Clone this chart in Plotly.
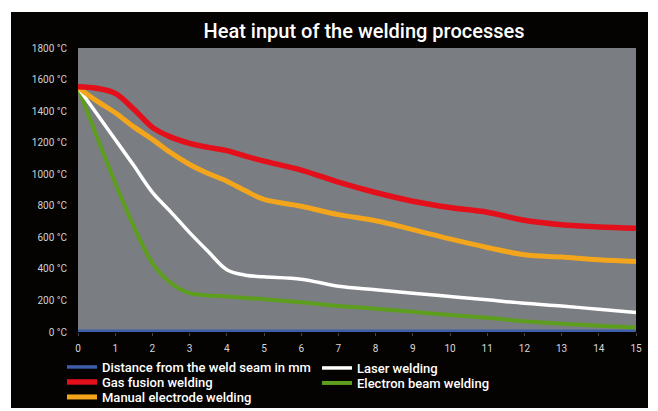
import plotly.graph_objects as go

x_mm = [0, 0.5, 1, 1.5, 2, 2.5, 3, 3.5, 4, 4.5, 5, 6, 7, 8, 9, 10, 11, 12, 13, 14, 15]

gas_fusion = [1555, 1545, 1512, 1412, 1297, 1235, 1196, 1170, 1150, 1115, 1083, 1026, 950, 884, 829, 789, 759, 708, 680, 666, 658]
manual_electrode = [1550, 1465, 1390, 1300, 1221, 1135, 1062, 1005, 956, 895, 840, 797, 744, 705, 649, 590, 536, 490, 475, 458, 447]
laser = [1550, 1385, 1220, 1055, 885, 760, 630, 510, 395, 360, 350, 335, 290, 268, 246, 225, 204, 182, 165, 144, 123]
electron_beam = [1550, 1243, 945, 670, 437, 310, 246, 232, 225, 215, 208, 189, 165, 148, 128, 108, 90, 68, 52, 40, 28]
distance_line = [5] * len(x_mm)

y_ticks = [0, 200, 400, 600, 800, 1000, 1200, 1400, 1600, 1800]
y_tick_text = [f"{v} °C" for v in y_ticks]
x_ticks = list(range(0, 16))

# the page body has an 8px margin, so the figure is drawn 8px in from the corner
OFF = 8
W, H = 658 - OFF, 411 - OFF
# plot area in screen pixels
SL, SR, ST, SB = 78, 636, 48, 332
L, R, T, B = SL - OFF, W - (SR - OFF), ST - OFF, H - (SB - OFF)
pw, ph = W - L - R, H - T - B


def px_x(px):
    return (px - OFF - L) / pw


def px_y(py):
    return (H - B - (py - OFF)) / ph


# name, values, colour, width, legend id, legend left px, legend row centre px
series = [
    ("Distance from the weld seam in mm", distance_line, "#3d5ea8", 3.5, "legend", 62, 367),
    ("Gas fusion welding", gas_fusion, "#e3101b", 5.5, "legend2", 62, 382),
    ("Manual electrode welding", manual_electrode, "#f3a51c", 5, "legend3", 62, 397),
    ("Laser welding", laser, "#ffffff", 3.5, "legend4", 317, 368),
    ("Electron beam welding", electron_beam, "#5e9e1e", 4, "legend5", 317, 383),
]

fig = go.Figure()
draw_order = [0, 4, 3, 2, 1]
for i in draw_order:
    name, ys, color, w, lg, _, _ = series[i]
    fig.add_trace(go.Scatter(
        x=x_mm, y=ys, mode="lines", name=name,
        line=dict(color=color, width=w, shape="spline", smoothing=1.0),
        legend=lg, showlegend=True, hoverinfo="skip",
    ))

legend_font = dict(size=13, color="white", family="Roboto", weight=500)
legends = {}
for name, ys, color, w, lg, lx, ly in series:
    legends[lg] = dict(
        x=px_x(lx), y=px_y(ly), xanchor="left", yanchor="middle",
        orientation="v", bgcolor="rgba(0,0,0,0)", font=legend_font,
        itemwidth=30, borderwidth=0, visible=True,
    )

fig.update_layout(
    width=W, height=H,
    showlegend=True,
    margin=dict(l=L, r=R, t=T, b=B, autoexpand=False),
    paper_bgcolor="white",
    plot_bgcolor="#7a7d81",
    font=dict(family="Roboto", color="#e0e0e0"),
    title=dict(
        text="Heat input of the welding processes",
        font=dict(family="Roboto", size=20, color="white", weight=500),
        x=px_x(364), xref="paper", xanchor="center",
        y=1 - (31 - OFF) / H, yref="container", yanchor="middle",
    ),
    xaxis=dict(
        range=[0, 15], tickvals=x_ticks, showgrid=False, zeroline=False,
        ticks="outside", ticklen=3, tickcolor="#444444",
        tickfont=dict(size=10, color="#d8d8d8"), ticklabelstandoff=4,
        showline=False,
    ),
    yaxis=dict(
        range=[0, 1800], tickvals=y_ticks, ticktext=y_tick_text, showgrid=False,
        zeroline=False, ticks="", tickfont=dict(size=10, color="#d0d0d0"),
        ticklabelstandoff=10, showline=False,
    ),
    shapes=[
        dict(type="rect", xref="paper", yref="paper", layer="below",
             x0=px_x(11), x1=px_x(648), y0=px_y(408), y1=px_y(12),
             fillcolor="#050202", line=dict(width=0)),
        dict(type="rect", xref="paper", yref="paper", layer="below",
             x0=0, x1=1, y0=0, y1=1,
             fillcolor="#7a7d81", line=dict(width=0)),
    ],
    **legends,
)

fig.write_html("out.html")
